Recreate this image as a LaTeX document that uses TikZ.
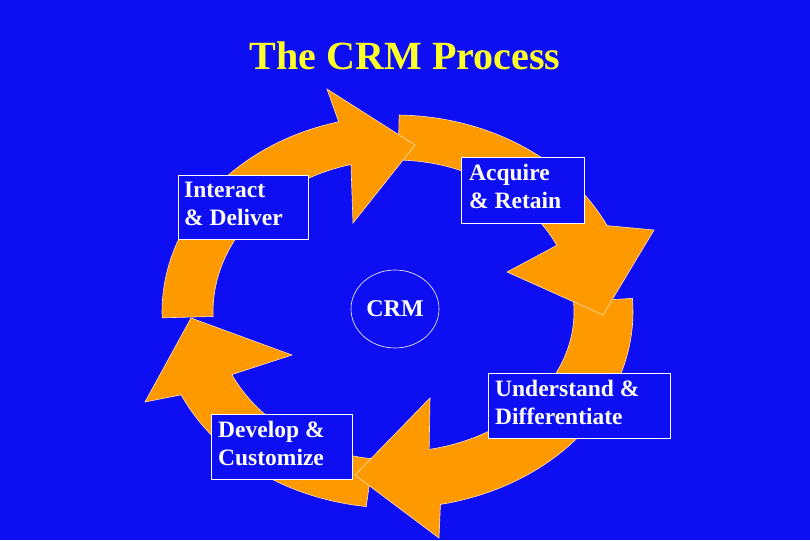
\documentclass[tikz,border=0pt]{standalone}
\usepackage{fontspec}
\setmainfont{Liberation Serif}
\usetikzlibrary{shapes.geometric}
\definecolor{bg}{RGB}{14,14,242}
\definecolor{org}{RGB}{255,153,0}
\definecolor{ttl}{RGB}{255,255,40}
\begin{document}
\begin{tikzpicture}[x=1pt,y=-1pt,
  arr/.style={fill=org,draw=white!70!org,line width=0.6pt,line join=miter},
  lbl/.style={draw=white,fill=bg,line width=0.7pt,inner sep=0pt,anchor=north west},
  ltx/.style={text=white,font=\fontsize{23.5}{28}\selectfont\bfseries,align=left,anchor=north west,inner sep=0pt}]
\useasboundingbox (0,0) rectangle (810,540);
\fill[bg] (0,0) rectangle (810,540);
\node[text=ttl,font=\fontsize{40}{44}\selectfont\bfseries] (title) at (405,56) {The CRM Process};
% arrow 4 (bottom-left, up to left)
\path[arr] plot[domain=263:205,samples=40] ({395+236*cos(\x)},{312-196*sin(\x)})
  -- (145,402) -- (191,318) -- (292,355)
  -- plot[domain=205:263,samples=40] ({395+180*cos(\x)},{312-148*sin(\x)}) -- cycle;
% arrow 3 (right, down to bottom)
\path[arr] plot[domain=4:-79,samples=40] ({395+238*cos(\x)},{312-196*sin(\x)})
  -- (439,538) -- (355,475) -- (430,398)
  -- plot[domain=-79:4,samples=40] ({395+179*cos(\x)},{312-140*sin(\x)}) -- cycle;
% arrow 2 (top, to right)
\path[arr] plot[domain=89:26,samples=40] ({395+236*cos(\x)},{312-197*sin(\x)})
  -- (654,230) -- (603,315) -- (507,272)
  -- plot[domain=26:89,samples=40] ({395+180*cos(\x)},{312-152*sin(\x)}) -- cycle;
% arrow 1 (left, up to top)
\path[arr] plot[domain=181.7:104,samples=40] ({395+233*cos(\x)},{312-196*sin(\x)})
  -- (327,89) -- (415,145) -- (353,223)
  -- plot[domain=104:181.7,samples=40] ({395+182*cos(\x)},{312-152*sin(\x)}) -- cycle;
% labels
\node[lbl,minimum width=130pt,minimum height=64pt] (id) at (178,175) {};
\node[ltx] (idt) at (184,182) {Interact\\\& Deliver};
\node[lbl,minimum width=123pt,minimum height=66pt] (ar) at (461,157) {};
\node[ltx] (art) at (469,164) {Acquire\\\& Retain};
\node[lbl,minimum width=182pt,minimum height=65pt] (ud) at (488,373) {};
\node[ltx] (udt) at (495,380) {Understand \&\\Differentiate};
\node[lbl,minimum width=141pt,minimum height=65pt] (dc) at (211,414) {};
\node[ltx] (dct) at (218,421) {Develop \&\\Customize};
\node[draw=white,ellipse,line width=0.6pt,minimum width=88pt,minimum height=78pt,inner sep=0pt,text=white,font=\fontsize{24}{26}\selectfont\bfseries] (crm) at (395,309) {CRM};
\end{tikzpicture}
\end{document}
